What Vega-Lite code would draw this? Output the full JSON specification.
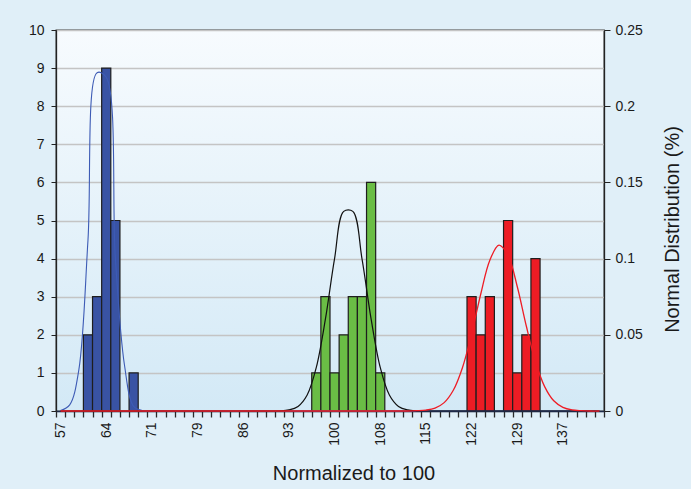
{
  "$schema": "https://vega.github.io/schema/vega-lite/v6.json",
  "width": 548,
  "height": 381,
  "autosize": {"type": "none"},
  "padding": {"left": 56, "top": 30, "right": 87, "bottom": 78},
  "background": "#e0eff8",
  "view": {
    "fill": {"gradient": "linear", "x1": 0, "y1": 0, "x2": 0, "y2": 1, "stops": [{"offset": 0, "color": "#f7fbfe"}, {"offset": 1, "color": "#d3e9f6"}]},
    "stroke": "#2a2a2a",
    "strokeWidth": 1.3
  },
  "config": {
    "font": "Liberation Sans",
    "axis": {"labelColor": "#1a1a1a", "titleColor": "#1a1a1a", "titleFontWeight": "normal", "labelFont": "Liberation Sans", "titleFont": "Liberation Sans"}
  },
  "datasets": {
    "bars": [
      {"k": 3, "series": "A", "count": 2},
      {"k": 4, "series": "A", "count": 3},
      {"k": 5, "series": "A", "count": 9},
      {"k": 6, "series": "A", "count": 5},
      {"k": 8, "series": "A", "count": 1},
      {"k": 28, "series": "B", "count": 1},
      {"k": 29, "series": "B", "count": 3},
      {"k": 30, "series": "B", "count": 1},
      {"k": 31, "series": "B", "count": 2},
      {"k": 32, "series": "B", "count": 3},
      {"k": 33, "series": "B", "count": 3},
      {"k": 34, "series": "B", "count": 6},
      {"k": 35, "series": "B", "count": 1},
      {"k": 45, "series": "C", "count": 3},
      {"k": 46, "series": "C", "count": 2},
      {"k": 47, "series": "C", "count": 3},
      {"k": 49, "series": "C", "count": 5},
      {"k": 50, "series": "C", "count": 1},
      {"k": 51, "series": "C", "count": 2},
      {"k": 52, "series": "C", "count": 4}
    ],
    "curves": [
      {"k": 0, "a": 0.0003, "b": 0, "c": 0},
      {"k": 1, "a": 0.004, "b": 0, "c": 0},
      {"k": 2, "a": 0.027, "b": 0, "c": 0},
      {"k": 3, "a": 0.112, "b": 0, "c": 0},
      {"k": 4, "a": 0.222, "b": 0, "c": 0},
      {"k": 5, "a": 0.219, "b": 0, "c": 0},
      {"k": 6, "a": 0.1, "b": 0, "c": 0},
      {"k": 7, "a": 0.03, "b": 0, "c": 0},
      {"k": 8, "a": 0.003, "b": 0, "c": 0},
      {"k": 9, "a": 0.0002, "b": 0, "c": 0},
      {"k": 10, "a": 0, "b": 0, "c": 0},
      {"k": 11, "a": 0, "b": 0, "c": 0},
      {"k": 12, "a": 0, "b": 0, "c": 0},
      {"k": 13, "a": 0, "b": 0, "c": 0},
      {"k": 14, "a": 0, "b": 0, "c": 0},
      {"k": 15, "a": 0, "b": 0, "c": 0},
      {"k": 16, "a": 0, "b": 0, "c": 0},
      {"k": 17, "a": 0, "b": 0, "c": 0},
      {"k": 18, "a": 0, "b": 0, "c": 0},
      {"k": 19, "a": 0, "b": 0, "c": 0},
      {"k": 20, "a": 0, "b": 0, "c": 0},
      {"k": 21, "a": 0, "b": 0, "c": 0},
      {"k": 22, "a": 0, "b": 0, "c": 0},
      {"k": 23, "a": 0, "b": 0, "c": 0},
      {"k": 24, "a": 0, "b": 0.0001, "c": 0},
      {"k": 25, "a": 0, "b": 0.0007, "c": 0},
      {"k": 26, "a": 0, "b": 0.003, "c": 0},
      {"k": 27, "a": 0, "b": 0.0105, "c": 0},
      {"k": 28, "a": 0, "b": 0.0286, "c": 0},
      {"k": 29, "a": 0, "b": 0.0604, "c": 0},
      {"k": 30, "a": 0, "b": 0.1, "c": 0},
      {"k": 31, "a": 0, "b": 0.131, "c": 0},
      {"k": 32, "a": 0, "b": 0.131, "c": 0},
      {"k": 33, "a": 0, "b": 0.1, "c": 0},
      {"k": 34, "a": 0, "b": 0.0604, "c": 0},
      {"k": 35, "a": 0, "b": 0.0286, "c": 0},
      {"k": 36, "a": 0, "b": 0.0105, "c": 0},
      {"k": 37, "a": 0, "b": 0.003, "c": 0},
      {"k": 38, "a": 0, "b": 0.0007, "c": 0},
      {"k": 39, "a": 0, "b": 0.0001, "c": 0.0002},
      {"k": 40, "a": 0, "b": 0, "c": 0.0006},
      {"k": 41, "a": 0, "b": 0, "c": 0.0019},
      {"k": 42, "a": 0, "b": 0, "c": 0.0055},
      {"k": 43, "a": 0, "b": 0, "c": 0.0136},
      {"k": 44, "a": 0, "b": 0, "c": 0.0284},
      {"k": 45, "a": 0, "b": 0, "c": 0.0505},
      {"k": 46, "a": 0, "b": 0, "c": 0.0766},
      {"k": 47, "a": 0, "b": 0, "c": 0.0989},
      {"k": 48, "a": 0, "b": 0, "c": 0.1089},
      {"k": 49, "a": 0, "b": 0, "c": 0.1021},
      {"k": 50, "a": 0, "b": 0, "c": 0.0817},
      {"k": 51, "a": 0, "b": 0, "c": 0.0556},
      {"k": 52, "a": 0, "b": 0, "c": 0.0323},
      {"k": 53, "a": 0, "b": 0, "c": 0.016},
      {"k": 54, "a": 0, "b": 0, "c": 0.0067},
      {"k": 55, "a": 0, "b": 0, "c": 0.0024},
      {"k": 56, "a": 0, "b": 0, "c": 0.0007},
      {"k": 57, "a": 0, "b": 0, "c": 0.0002},
      {"k": 58, "a": 0, "b": 0, "c": 0},
      {"k": 59, "a": 0, "b": 0, "c": 0}
    ]
  },
  "layer": [
    {
      "data": {"name": "bars"},
      "mark": {"type": "bar", "stroke": "#1e1e1e", "strokeWidth": 1.2},
      "encoding": {
        "x": {
          "field": "k", "type": "ordinal",
          "scale": {"domain": [0,1,2,3,4,5,6,7,8,9,10,11,12,13,14,15,16,17,18,19,20,21,22,23,24,25,26,27,28,29,30,31,32,33,34,35,36,37,38,39,40,41,42,43,44,45,46,47,48,49,50,51,52,53,54,55,56,57,58,59], "paddingInner": 0, "paddingOuter": 0},
          "axis": {
            "orient": "bottom", "tickBand": "extent",
            "labelExpr": "datum.value==0?'57':datum.value==5?'64':datum.value==10?'71':datum.value==15?'79':datum.value==20?'86':datum.value==25?'93':datum.value==30?'100':datum.value==35?'108':datum.value==40?'115':datum.value==45?'122':datum.value==50?'129':datum.value==55?'137':''",
            "labelAngle": 270, "labelFontSize": 14, "labelPadding": 5, "labelOverlap": false,
            "ticks": true, "tickSize": 6, "tickColor": "#2a2a2a", "tickWidth": 1.3, "tickOpacity": 1,
            "domain": true, "domainColor": "#1f2b4a", "domainWidth": 1.5, "grid": false,
            "title": "Normalized to 100", "titleFontSize": 20, "titleX": 297.5, "titleY": 68, "titleAlign": "center", "titleBaseline": "alphabetic"
          }
        },
        "y": {
          "field": "count", "type": "quantitative",
          "scale": {"domain": [0, 10]},
          "axis": {"orient": "left", "values": [0,1,2,3,4,5,6,7,8,9,10], "grid": true, "gridColor": "#c4c4c4", "gridWidth": 1.5, "tickSize": 5, "tickColor": "#222222", "domainColor": "#222222", "domainWidth": 1.3, "labelFontSize": 14, "labelPadding": 7, "title": null}
        },
        "color": {"field": "series", "type": "nominal", "scale": {"domain": ["A", "B", "C"], "range": ["#3953a4", "#6abd45", "#ed1c24"]}, "legend": null}
      }
    },
    {
      "data": {"name": "curves"},
      "transform": [{"fold": ["a", "b", "c"], "as": ["curve", "pdf"]}],
      "mark": {"type": "line", "interpolate": "catmull-rom"},
      "encoding": {
        "x": {
          "field": "k", "type": "ordinal",
          "axis": {
            "orient": "bottom", "tickBand": "extent",
            "labelExpr": "datum.value==0?'57':datum.value==5?'64':datum.value==10?'71':datum.value==15?'79':datum.value==20?'86':datum.value==25?'93':datum.value==30?'100':datum.value==35?'108':datum.value==40?'115':datum.value==45?'122':datum.value==50?'129':datum.value==55?'137':''",
            "labelAngle": 270, "labelFontSize": 14, "labelPadding": 5, "labelOverlap": false,
            "ticks": true, "tickSize": 6, "tickColor": "#2a2a2a", "tickWidth": 1.3, "tickOpacity": 1,
            "domain": true, "domainColor": "#1f2b4a", "domainWidth": 1.5, "grid": false,
            "title": "Normalized to 100", "titleFontSize": 20, "titleX": 297.5, "titleY": 68, "titleAlign": "center", "titleBaseline": "alphabetic"
          }
        },
        "y": {
          "field": "pdf", "type": "quantitative",
          "scale": {"domain": [0, 0.25]},
          "axis": {"orient": "right", "values": [0, 0.05, 0.1, 0.15, 0.2, 0.25], "format": "~g", "grid": false, "tickSize": 6, "tickColor": "#222222", "domainColor": "#222222", "domainWidth": 1.3, "labelFontSize": 14, "labelPadding": 5,
            "title": "Normal Distribution (%)", "titleFontSize": 20, "titleAngle": 270, "titleX": 68.5, "titleY": 199, "titleAlign": "center", "titleBaseline": "middle"}
        },
        "color": {"field": "curve", "type": "nominal", "scale": {"domain": ["a", "b", "c"], "range": ["#3d5bb5", "#111111", "#ee1c25"]}, "legend": null},
        "strokeWidth": {"field": "curve", "type": "ordinal", "scale": {"domain": ["a", "b", "c"], "range": [1.1, 1.3, 1.6]}, "legend": null}
      }
    }
  ],
  "resolve": {"scale": {"y": "independent", "color": "independent"}}
}
